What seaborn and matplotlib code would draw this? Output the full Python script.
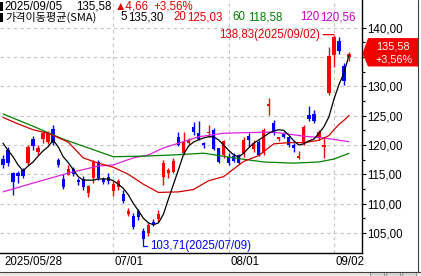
import numpy as np
import pandas as pd
import seaborn as sns
import matplotlib
matplotlib.use("Agg")
import matplotlib.pyplot as plt
from matplotlib import font_manager
from matplotlib.patches import Polygon, Rectangle
from matplotlib.lines import Line2D
from matplotlib.transforms import IdentityTransform, ScaledTranslation
from matplotlib.ticker import FixedLocator, FuncFormatter

# ---------------- data ----------------
opens = [117.6, 119.1, 115.2, 115.2, 115.7, 116.9, 121.0, 118.8, 121.0, 120.5,
         122.7, 117.4, 114.2, 114.9, 115.9, 114.0, 114.2, 111.8, 114.4, 117.1,
         114.2, 114.5, 112.2, 112.8, 111.6, 108.2, 107.9, 108.7, 105.4, 105.0,
         106.8, 107.4, 114.5, 115.2, 115.4, 121.4, 118.6, 120.3, 123.1, 122.0,
         120.3, 122.0, 122.6, 119.5, 118.3, 118.0, 118.1, 118.3, 118.6, 121.5,
         119.3, 120.5, 118.6, 126.7, 123.8, 121.0, 121.9, 121.4, 120.0, 117.8,
         120.3, 125.1, 125.3, 121.2, 119.6, 128.9, 135.3, 137.8, 133.4, 135.0]
highs = [118.3, 119.6, 115.4, 115.6, 116.0, 120.0, 121.5, 120.0, 122.4, 122.4,
         123.4, 117.8, 115.1, 116.6, 116.3, 114.3, 114.7, 113.2, 117.4, 117.4,
         114.5, 115.2, 113.9, 114.2, 112.3, 109.2, 108.4, 109.0, 105.8, 106.7,
         107.3, 108.9, 117.4, 116.1, 117.8, 122.2, 122.2, 121.2, 123.9, 124.1,
         120.5, 123.4, 122.9, 119.5, 120.9, 118.6, 118.6, 118.5, 121.4, 122.0,
         120.9, 120.9, 122.9, 128.0, 124.3, 121.4, 122.2, 121.5, 120.3, 118.9,
         123.4, 126.7, 126.0, 122.6, 121.2, 136.8, 138.83, 138.4, 134.0, 135.9]
lows = [116.1, 116.4, 111.5, 113.5, 114.3, 116.6, 119.1, 118.3, 120.3, 120.2,
        120.0, 116.3, 112.5, 114.9, 114.7, 113.2, 112.3, 111.1, 113.5, 114.0,
        113.3, 113.3, 111.3, 112.3, 110.1, 107.9, 105.7, 107.2, 103.71, 104.5,
        106.1, 106.9, 113.2, 114.4, 115.2, 119.9, 118.3, 120.0, 121.7, 120.9,
        119.5, 121.4, 119.2, 116.9, 117.8, 116.6, 117.1, 116.8, 118.0, 119.7,
        118.8, 118.1, 118.3, 125.1, 121.7, 120.7, 121.2, 119.7, 118.8, 117.6,
        120.0, 124.1, 123.8, 120.9, 117.8, 128.5, 133.3, 135.5, 130.2, 134.3]
closes = [116.6, 116.9, 113.7, 114.7, 114.7, 119.7, 119.8, 119.5, 122.0, 122.0,
          120.3, 116.6, 112.8, 115.9, 115.1, 113.7, 112.8, 113.0, 117.1, 114.4,
          113.7, 113.9, 113.3, 113.9, 110.4, 108.7, 106.0, 107.7, 103.9, 106.3,
          106.3, 108.2, 116.9, 115.7, 117.3, 120.0, 120.5, 120.9, 122.2, 121.0,
          120.0, 122.2, 119.3, 117.1, 120.7, 116.9, 117.3, 116.9, 120.9, 120.9,
          120.3, 118.3, 122.6, 127.0, 122.0, 121.4, 121.4, 120.0, 119.5, 118.1,
          123.1, 124.4, 124.1, 122.2, 120.0, 135.2, 138.5, 136.0, 130.92, 135.58]

ma5 = [120.3, 119.1, 118.0, 116.6, 115.6, 116.4, 117.1, 118.1, 119.0, 119.7,
       120.85, 119.7, 118.0, 117.0, 115.8, 114.6, 114.0, 114.0, 114.0, 114.2,
       114.2, 114.2, 113.9, 113.3, 112.6, 111.5, 110.0, 108.8, 107.5, 106.7,
       106.4, 106.7, 108.2, 110.8, 113.3, 115.8, 118.4, 119.8, 120.5, 120.9,
       121.2, 121.4, 121.4, 120.85, 120.0, 119.1, 118.3, 117.95, 118.6, 119.5,
       120.3, 120.85, 121.4, 122.0, 122.4, 122.6, 122.5, 121.7, 120.7, 120.0,
       120.2, 120.7, 121.0, 122.0, 123.1, 124.8, 127.8, 130.3, 132.3, 135.30]

ma20_idx = [0, 3, 6, 9, 13, 16, 19, 22, 25, 28, 31, 35, 38, 41, 44, 48, 51, 54,
            57, 60, 63, 65, 66, 67, 68, 69]
ma20_val = [124.7, 123.6, 122.6, 122.0, 120.5, 117.8, 116.9, 116.2, 115.0, 113.3,
            111.9, 112.0, 112.4, 113.9, 114.6, 117.2, 118.2, 120.2, 120.4, 120.4,
            120.8, 121.6, 122.6, 123.5, 124.2, 125.03]

ma60_idx = [0, 6, 12, 16, 22, 28, 34, 40, 46, 52, 58, 63, 66, 69]
ma60_val = [125.3, 123.2, 121.0, 119.8, 118.0, 118.1, 118.3, 118.6, 117.8, 117.1,
            116.9, 117.1, 117.6, 118.58]

ma120_idx = [0, 6, 13, 19, 22, 26, 29, 32, 35, 39, 44, 48, 54, 60, 64, 69]
ma120_val = [112.0, 113.5, 115.2, 116.4, 116.6, 117.8, 118.3, 119.5, 120.3, 121.4,
             122.0, 122.1, 122.2, 121.5, 121.2, 120.56]

tick_idx = [0, 22, 45, 66]
tick_labels = ["2025/05/28", "07/01", "08/01", "09/02"]
week_idx = [11, 16, 21, 31, 36, 41, 51, 55, 60]
price_ticks = [105, 110, 115, 120, 125, 130, 135, 140]

hi_idx, hi_val, hi_label = 66, 138.83, "138,83(2025/09/02)"
lo_idx, lo_val, lo_label = 28, 103.71, "103,71(2025/07/09)"

header_date = "2025/09/05"
last_close_txt = "135,58"
change_txt = "\u25b24,66"
pct_txt = "+3,56%"
ma_names = ["5", "20", "60", "120"]
ma_last_txt = ["135,30", "125,03", "118,58", "120,56"]

# ---------------- style ----------------
sns.set_style("white")

def pick_font(cands):
    for c in cands:
        try:
            font_manager.findfont(font_manager.FontProperties(family=c),
                                  fallback_to_default=False)
            return c
        except Exception:
            pass
    return "DejaVu Sans"

NUM = pick_font(["Liberation Sans Narrow", "Liberation Sans"])
NSIZE = 9.4 if "Narrow" in NUM else 8.3
NUMFAM = [NUM, "DejaVu Sans"]
KRFAM = ["Noto Sans CJK KR", "DejaVu Sans"]

RED = "#ff0000"
BLUE = "#0000ff"
C_MA5 = "#000000"
C_MA20 = "#d40000"
C_MA60 = "#008000"
C_MA120 = "#e020e0"
TXT_RED = "#e00000"
GRID = "#c4c4c4"

W, H = 421, 276
fig = plt.figure(figsize=(W / 100, H / 100), dpi=100)
fig.patch.set_facecolor("white")
ax_r, ax_b = 362, 252.7
ax = fig.add_axes([0, 1 - ax_b / H, ax_r / W, ax_b / H])
ax.set_facecolor("white")

n = len(closes)
idx = np.arange(n)
ax.set_xlim(-0.6, 71.6)
ax.set_ylim(101.62, 144.74)

# grid
for v in price_ticks:
    ax.axhline(v, color=GRID, lw=0.8, ls=(0, (3, 3)), zorder=0)
for t in tick_idx[1:]:
    ax.axvline(t, color=GRID, lw=0.8, ls=(0, (3, 3)), zorder=0)

# candles
o = np.array(opens); c = np.array(closes)
hi = np.array(highs); lo = np.array(lows)
up = c >= o
cols = np.where(up, RED, BLUE)
ax.vlines(idx, lo, hi, colors=cols, lw=1.0, zorder=2)
body_lo = np.minimum(o, c)
body_h = np.maximum(np.abs(c - o), 0.2)
ax.bar(idx, body_h, bottom=body_lo, width=0.66, color=cols, linewidth=0, zorder=2)

# moving averages with seaborn
sns.lineplot(x=ma120_idx, y=ma120_val, color=C_MA120, lw=0.9, ax=ax, zorder=3)
sns.lineplot(x=ma60_idx, y=ma60_val, color=C_MA60, lw=0.9, ax=ax, zorder=3)
sns.lineplot(x=ma20_idx, y=ma20_val, color=C_MA20, lw=0.9, ax=ax, zorder=3)
sns.lineplot(x=idx, y=ma5, color=C_MA5, lw=0.9, ax=ax, zorder=3)

# axes, ticks
for s in ["left", "top"]:
    ax.spines[s].set_visible(False)
for s in ["right", "bottom"]:
    ax.spines[s].set_visible(True)
    ax.spines[s].set_color("black")
    ax.spines[s].set_linewidth(1.0)

# the current-price box covers the tick labels that lie within its height
last = closes[-1]
box_up, box_dn = 15.6, 12.8  # pixels above / below the last close
px_per_unit = ax_b / (144.74 - 101.62)
def ytick_fmt(v, p):
    dpx = (v - last) * px_per_unit
    if -box_dn - 5 < dpx < box_up + 5:
        return ""
    return f"{v:.2f}".replace(".", ",")

ax.yaxis.tick_right()
ax.yaxis.set_major_locator(FixedLocator(price_ticks))
ax.yaxis.set_minor_locator(FixedLocator([v + 2.5 for v in price_ticks[:-1]]))
ax.yaxis.set_major_formatter(FuncFormatter(ytick_fmt))
ax.tick_params(axis="y", which="major", length=3, width=0.8, pad=0.5,
               labelsize=NSIZE, colors="black", direction="out")
ax.tick_params(axis="y", which="minor", length=2.2, width=0.8, colors="black",
               direction="out")
for lb in ax.get_yticklabels():
    lb.set_fontfamily(NUMFAM)

ax.set_xticks(tick_idx)
ax.set_xticklabels(tick_labels, ha="left")
ax.xaxis.set_minor_locator(FixedLocator(week_idx))
ax.tick_params(axis="x", which="major", length=4, width=0.8, pad=-1.5,
               labelsize=NSIZE, colors="black", direction="out")
ax.tick_params(axis="x", which="minor", length=2.5, width=0.8, colors="black",
               direction="out")
shift = ScaledTranslation(1.5 / 100, 0, fig.dpi_scale_trans)
for lb in ax.get_xticklabels():
    lb.set_fontfamily(NUMFAM)
    lb.set_transform(lb.get_transform() + shift)
ax.set_xlabel("")
ax.set_ylabel("")

# high / low annotations
ax.annotate(hi_label, xy=(hi_idx, hi_val), xytext=(-14, 0),
            textcoords="offset pixels", ha="right", va="center",
            color=TXT_RED, fontsize=NSIZE, fontfamily=NUMFAM, zorder=5,
            arrowprops=dict(arrowstyle="-", color=TXT_RED, lw=0.9,
                            shrinkA=0, shrinkB=0, relpos=(1, 0.5)))
ax.annotate(lo_label, xy=(lo_idx, lo_val), xytext=(7, -6),
            textcoords="offset pixels", ha="left", va="center",
            color=BLUE, fontsize=NSIZE, fontfamily=NUMFAM, zorder=5,
            arrowprops=dict(arrowstyle="-", color=BLUE, lw=0.9,
                            shrinkA=0, shrinkB=0, relpos=(0, 0.5),
                            connectionstyle="angle,angleA=0,angleB=90,rad=0"))

# ---------------- header ----------------
def ftxt(x, y, s, color="black", fam=NUMFAM, size=NSIZE):
    fig.text(x / W, 1 - y / H, s, color=color, fontfamily=fam, fontsize=size,
             ha="left", va="center")

fig.add_artist(Rectangle((0, 1 - 10.5 / H), 2.6 / W, 8.5 / H,
                         transform=fig.transFigure, color="black", lw=0))
fig.add_artist(Rectangle((0, 1 - 21.5 / H), 2.6 / W, 8.5 / H,
                         transform=fig.transFigure, color="black", lw=0))
ftxt(4, 6.5, header_date)
ftxt(76, 6.5, last_close_txt)
ftxt(115, 6.5, change_txt, TXT_RED)
ftxt(153, 6.5, pct_txt, TXT_RED)
ftxt(5, 17.5, "가격이동평균(SMA)", fam=KRFAM, size=8.0)
ftxt(120, 17.5, ma_names[0])
ftxt(128, 17.5, ma_last_txt[0])
ftxt(173, 17.5, ma_names[1], TXT_RED)
ftxt(187, 17.5, ma_last_txt[1], TXT_RED)
ftxt(232, 17.5, ma_names[2], C_MA60)
ftxt(248, 17.5, ma_last_txt[2], C_MA60)
ftxt(300, 17.5, ma_names[3], "#cc00cc")
ftxt(320, 17.5, ma_last_txt[3], "#cc00cc")

# ---------------- current price box ----------------
yc = ax.transData.transform((0, last))[1]
box = Polygon([(362.5, yc), (368, yc + box_up), (418, yc + box_up),
               (418, yc - box_dn), (368, yc - box_dn)], closed=True,
              transform=IdentityTransform(), facecolor="#f00000",
              edgecolor="none", zorder=10)
fig.add_artist(box)
fig.text(393, yc + 7.0, last_close_txt, transform=IdentityTransform(),
         color="white", fontfamily=NUMFAM, fontsize=NSIZE - 0.5, ha="center",
         va="center", zorder=11)
fig.text(394, yc - 5.4, pct_txt, transform=IdentityTransform(),
         color="white", fontfamily=NUMFAM, fontsize=NSIZE - 0.5, ha="center",
         va="center", zorder=11)

# ---------------- frame decorations ----------------
fig.add_artist(Line2D([418 / W, 418 / W], [1 - 271.5 / H, 1], color="#404040",
                      lw=0.8, transform=fig.transFigure))
fig.add_artist(Line2D([0, 1], [1 - 271.5 / H, 1 - 271.5 / H], color="#404040",
                      lw=0.8, transform=fig.transFigure))
fig.add_artist(Rectangle((0, 0), 1, 4.3 / H, transform=fig.transFigure,
                         facecolor="#ece9e4", edgecolor="none"))
for bx in [370, 386, 402]:
    fig.add_artist(Rectangle((bx / W, 0), 14 / W, 4.0 / H,
                             transform=fig.transFigure, facecolor="#d8d8d8",
                             edgecolor="#808080", lw=0.6))

fig.savefig("out.png", dpi=100, facecolor="white")
